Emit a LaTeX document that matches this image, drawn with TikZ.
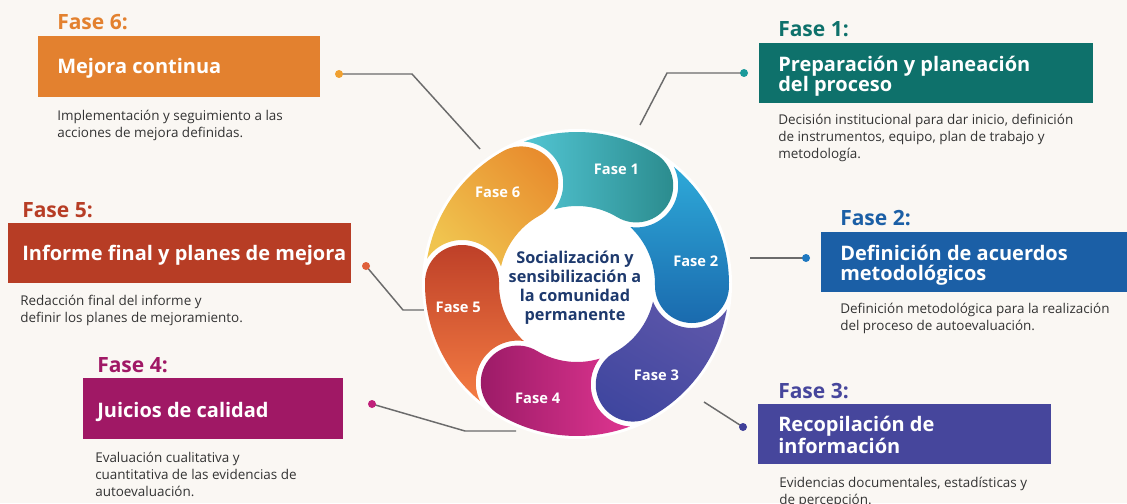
\documentclass[tikz,border=0pt]{standalone}
\usepackage{fontspec}
\setmainfont{Open Sans}

\definecolor{bgcol}{HTML}{FAF7F3}
\definecolor{txtgray}{HTML}{333333}
\definecolor{linegray}{HTML}{6B6B6B}
\definecolor{navy}{HTML}{1E3A6E}
% boxes and headings
\definecolor{c1}{HTML}{0E716B}
\definecolor{c2}{HTML}{1B5FA6}
\definecolor{c3}{HTML}{46469C}
\definecolor{c4}{HTML}{A01865}
\definecolor{c5}{HTML}{B73D25}
\definecolor{c6}{HTML}{E3812F}
% dots
\definecolor{d1}{HTML}{1A9A9A}
\definecolor{d2}{HTML}{1E78C0}
\definecolor{d3}{HTML}{3F3F99}
\definecolor{d4}{HTML}{C0207A}
\definecolor{d5}{HTML}{E0603A}
\definecolor{d6}{HTML}{F0A030}
% ring gradients
\definecolor{f1a}{HTML}{52C5D3}
\definecolor{f1b}{HTML}{2A8A8C}
\definecolor{f2a}{HTML}{2EA9D8}
\definecolor{f2b}{HTML}{1A6AAE}
\definecolor{f3a}{HTML}{5C56A9}
\definecolor{f3b}{HTML}{3F469F}
\definecolor{f4a}{HTML}{9A1A66}
\definecolor{f4b}{HTML}{DE3590}
\definecolor{f5a}{HTML}{BE4028}
\definecolor{f5b}{HTML}{F47C43}
\definecolor{f6a}{HTML}{E88D2E}
\definecolor{f6b}{HTML}{F0C44F}

\begin{document}
\begin{tikzpicture}[x=0.75pt,y=-0.75pt]
		\tikzstyle{head}=[anchor=base west,inner sep=0pt,font=\bfseries\fontsize{15.75}{18}\selectfont]
		\tikzstyle{boxtitle}=[anchor=base west,inner sep=0pt,align=left,text=white,font=\bfseries\fontsize{15}{15}\selectfont]
		\tikzstyle{desc}=[anchor=base west,inner sep=0pt,align=left,text=txtgray,font=\fontsize{10.1}{12.75}\selectfont]
		\tikzstyle{enddot}=[circle,inner sep=0pt,minimum size=6pt]
		\tikzstyle{conn}=[linegray,line width=1.1pt]
		\tikzstyle{fase}=[inner sep=0pt,text=white,font=\bfseries\fontsize{11}{13}\selectfont]

		\fill[bgcol] (0,0) rectangle (1127,503);
		\useasboundingbox (0,0) rectangle (1127,503);

		% Fase 6 (base anchors sit on the last line)
		\node[head,text=c6](h6) at (57,30){Fase 6:};
		\fill[c6] (38,36) rectangle (320,97);
		\node[boxtitle](t6) at (57,74){Mejora continua};
		\node[desc](x6) at (57,137){Implementación y seguimiento a las\\acciones de mejora definidas.};

		% Fase 1
		\node[head,text=c1](h1) at (778,37){Fase 1:};
		\fill[c1] (759,43) rectangle (1093,103);
		\node[boxtitle](t1) at (778,91){Preparación y planeación\\del proceso};
		\node[desc](x1) at (778,158){Decisión institucional para dar inicio, definición\\de instrumentos, equipo, plan de trabajo y\\metodología.};

		% Fase 2
		\node[head,text=c2](h2) at (840,225){Fase 2:};
		\fill[c2] (821,232) rectangle (1127,292);
		\node[boxtitle](t2) at (840,280){Definición de acuerdos\\metodológicos};
		\node[desc](x2) at (840,330){Definición metodológica para la realización\\del proceso de autoevaluación.};

		% Fase 3
		\node[head,text=c3](h3) at (778,398){Fase 3:};
		\fill[c3] (758,404) rectangle (1051,464);
		\node[boxtitle](t3) at (778,453){Recopilación de\\información};
		\node[desc](x3) at (779,504){Evidencias documentales, estadísticas y\\de percepción.};

		% Fase 4
		\node[head,text=c4](h4) at (97,372){Fase 4:};
		\fill[c4] (83,378) rectangle (343,439);
		\node[boxtitle](t4) at (97,417){Juicios de calidad};
		\node[desc](x4) at (95,496){Evaluación cualitativa y\\cuantitativa de las evidencias de\\autoevaluación.};

		% Fase 5
		\node[head,text=c5](h5) at (22,217){Fase 5:};
		\fill[c5] (8,223) rectangle (351,283);
		\node[boxtitle](t5) at (22,260){Informe final y planes de mejora};
		\node[desc](x5) at (20,322){Redacción final del informe y\\definir los planes de mejoramiento.};

		% connectors
		\coordinate (p6) at (339,74);
		\coordinate (k6) at (412,74);
		\coordinate (e6) at (480,149);
		\draw[conn] (p6) -- (k6) -- (e6);
		\node[enddot,fill=d6](m6) at (p6){};

		\coordinate (p1) at (744,73);
		\coordinate (k1) at (667,73);
		\coordinate (e1) at (640,125);
		\draw[conn] (p1) -- (k1) -- (e1);
		\node[enddot,fill=d1](m1) at (p1){};

		\coordinate (p2) at (806,258);
		\coordinate (e2) at (750,258);
		\draw[conn] (p2) -- (e2);
		\node[enddot,fill=d2](m2) at (p2){};

		\coordinate (p3) at (743,427);
		\coordinate (e3) at (704,402);
		\draw[conn] (p3) -- (e3);
		\node[enddot,fill=d3](m3) at (p3){};

		\coordinate (p4) at (372,404);
		\coordinate (k4) at (465,431);
		\coordinate (e4) at (516,431);
		\draw[conn] (p4) -- (k4) -- (e4);
		\node[enddot,fill=d4](m4) at (p4){};

		\coordinate (p5) at (366,266);
		\coordinate (k5) at (403,310);
		\coordinate (e5) at (424,310);
		\draw[conn] (p5) -- (k5) -- (e5);
		\node[enddot,fill=d5](m5) at (p5){};

		% ring
		\begin{scope}[shift={(577,284)},y=0.75pt]
			\def\Rm{115}
			\def\hw{37}
			\def\gp{42}
			\pgfmathsetmacro\Ro{\Rm+\hw}
			\pgfmathsetmacro\Ri{\Rm-\hw}
			\pgfmathsetmacro\dOut{acos(((\Ro/10)^2+(\Rm/10)^2-(\gp/10)^2)/(2*(\Rm/10)*(\Ro/10)))}
			\pgfmathsetmacro\dIn{acos(((\Ri/10)^2+(\Rm/10)^2-(\gp/10)^2)/(2*(\Rm/10)*(\Ri/10)))}
			\pgfmathsetmacro\pOut{atan2(-\Ro*sin(\dOut),\Ro*cos(\dOut)-\Rm)}
			\pgfmathsetmacro\pIn{atan2(-\Ri*sin(\dIn),\Ri*cos(\dIn)-\Rm)}

			\fill[white] (0,0) circle[radius=\Ro+3];

			\foreach \a/\ca/\cb/\sa/\k in {119/f1a/f1b/90/1, 59/f2a/f2b/0/2, -1/f3a/f3b/-30/3, -61/f4a/f4b/90/4, -121/f5a/f5b/0/5, -181/f6a/f6b/-45/6}{
				\shade[top color=\ca,bottom color=\cb,shading angle=\sa]
					({\a-\dOut}:\Ro) arc[start angle=\a-\dOut,end angle=\a-60,radius=\Ro]
					arc[start angle=\a-60,end angle=\a-240,radius=\hw]
					arc[start angle=\a-60,end angle=\a-\dIn,radius=\Ri]
					arc[start angle=\a+\pIn,end angle=\a+\pOut,radius=\gp]
					-- cycle;
				\node[fase](l\k) at ({\a-48}:121){Fase \k};
			}

			\node[align=center,text=navy,font=\bfseries\fontsize{12.2}{14.25}\selectfont](mid) at (-2,-4){Socialización y\\sensibilización a\\la comunidad\\permanente};
		\end{scope}
	\end{tikzpicture}
\end{document}
